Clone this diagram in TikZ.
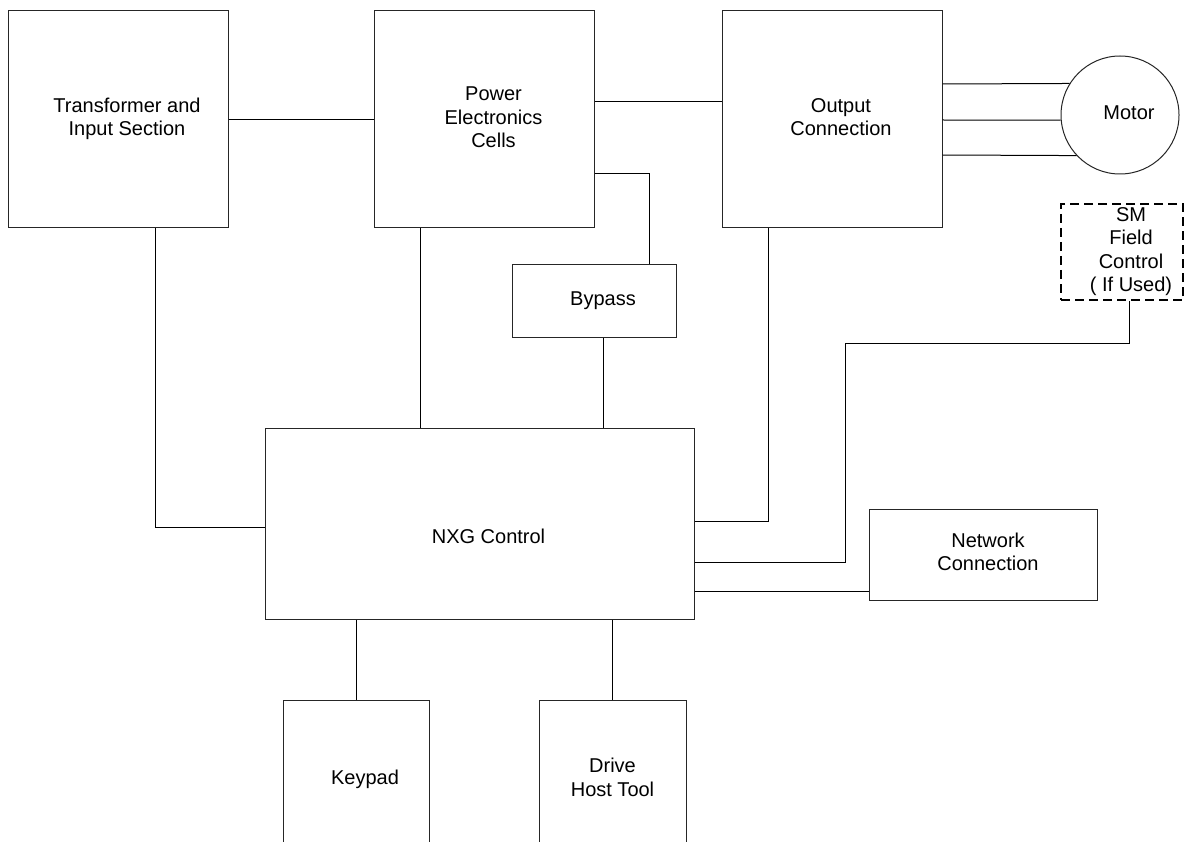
\documentclass[tikz,border=0pt]{standalone}
\usepackage{fontspec}
\setmainfont{Liberation Sans}
\usetikzlibrary{calc}

% text in the blocks sits a little right of centre
\newcommand{\nudge}[2][18pt]{\hspace*{#1}\begin{tabular}{@{}c@{}}#2\end{tabular}}

\begin{document}
\begin{tikzpicture}[x=1pt, y=-1pt, line width=1pt]
        \tikzset{
                basic/.style  = {draw=black!85, rectangle, inner sep=0pt, font=\fontsize{20}{23.5}\selectfont},
                block/.style 2 args = {basic, minimum width=#1, minimum height=#2},
                motorc/.style = {basic, circle, minimum size=118pt},
                optional/.style = {draw=black, line width=1.5pt, dash pattern=on 9pt off 5pt}
        }
        \useasboundingbox (0,0) rectangle (1185,842);
        \clip (0,0) rectangle (1185,842);

        % top row: power path
        \node[block={220}{217}] (xfmr) at (118,119.5) {\nudge{Transformer and\\Input Section}};
        \node[block={220}{217}] (cells) at (484.5,119.5) {\nudge{Power\\Electronics\\Cells}};
        \node[block={220}{217}] (outconn) at (832,119.5) {\nudge{Output\\Connection}};
        \node[motorc] (motor) at (1120,115) {\nudge{Motor}};
        \node[block={122}{96}, optional] (smfield) at (1122,252) {\nudge{SM\\Field\\Control\\( If Used)}};

        % middle: bypass, control and network
        \node[block={164}{73}] (bypass) at (594,300.5) {\nudge{Bypass}};
        \node[block={429}{191}, text height=45pt, text depth=6pt] (nxg) at (479.5,523.5) {\hspace*{18pt}NXG Control};
        \node[block={228}{91}] (network) at (983,554.5) {\nudge[10pt]{Network\\Connection}};

        % bottom: operator side, cut by the page edge
        \node[block={146}{160}] (keypad) at (356,780) {\nudge{Keypad}};
        \node[block={147}{160}] (dht) at (612.5,780) {\nudge[0pt]{Drive\\Host Tool}};

        % tap points on the block edges
        \coordinate (pe2oc) at ([yshift=17.5pt]cells.east);
        \coordinate (pe2nxg) at ([xshift=-64.5pt]cells.south);
        \coordinate (bp2nxg) at ([xshift=9pt]bypass.south);

        % power connections
        \draw[line width=1.8pt] (xfmr.east) -- (cells.west);
        \draw (pe2oc) -- (pe2oc -| outconn.west);
        \draw ([yshift=-54.5pt]cells.east) -| ([xshift=55pt]bypass.north);
        \foreach \dy/\ang in {35.5/148, -0.5/185, -35.5/223}
                \draw ([yshift=\dy pt]outconn.east) -- (motor.\ang);

        % control wiring to NXG
        \draw (pe2nxg) -- (pe2nxg |- nxg.north);
        \draw (bp2nxg) -- (bp2nxg |- nxg.north);
        \draw ([xshift=37pt]xfmr.south) |- ([yshift=-3.5pt]nxg.west);
        \draw ([xshift=-64pt]outconn.south) |- ([yshift=2.5pt]nxg.east);
        \draw ([yshift=-38.5pt]nxg.east) -| ([xshift=-277pt, yshift=-43pt]smfield.south)
                -| ([xshift=7pt]smfield.south);
        \draw ([yshift=-67.5pt]nxg.east) -- ([yshift=-36.5pt]network.west);
        \draw (keypad.north) -- (keypad.north |- nxg.south);
        \draw (dht.north) -- (dht.north |- nxg.south);
\end{tikzpicture}
\end{document}
